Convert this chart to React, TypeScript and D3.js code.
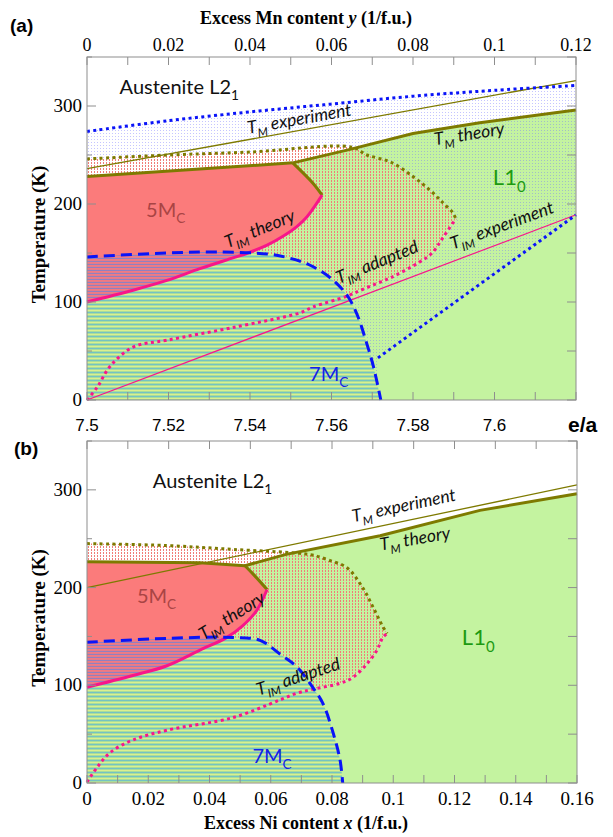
import React from 'react';
import * as d3 from 'd3';

type P = [number, number];

// ---------- panel (a): e/a on bottom, excess Mn on top ----------
const aTMexpBlue: P[] = [[7.5, 274], [7.52, 285], [7.54, 294], [7.56, 302], [7.58, 310], [7.6, 316], [7.62, 321]];
const aTMexpLine: P[] = [[7.5, 236], [7.62, 326]];
const aOliveDotted: P[] = [[7.5, 246], [7.52, 250], [7.54, 253], [7.565, 258], [7.5687, 250], [7.5744, 243], [7.58, 228], [7.5842, 214], [7.5874, 201], [7.5898, 191], [7.5905, 185]];
const aTop5M: P[] = [[7.5, 228], [7.5505, 242]];
const aTMtheory: P[] = [[7.5505, 242], [7.5638, 255], [7.58, 272], [7.5964, 283], [7.62, 296]];
const a5Mcorner: P[] = [[7.5505, 242], [7.5555, 221], [7.5577, 209]];
const aTIMtheory: P[] = [[7.5, 100], [7.5113, 112], [7.5196, 122], [7.5277, 134], [7.5358, 145], [7.5395, 150], [7.5442, 158], [7.5481, 167], [7.5515, 177], [7.554, 187], [7.5577, 209]];
const a7M: P[] = [[7.5, 146], [7.5196, 150], [7.5319, 151], [7.5442, 149], [7.5495, 145], [7.5545, 138], [7.5596, 125], [7.5638, 107], [7.5663, 87], [7.5684, 61], [7.5703, 34], [7.5721, 0]];
const aTIMadapted: P[] = [[7.5, 0], [7.5025, 13], [7.5056, 34], [7.5113, 54], [7.5196, 61], [7.5358, 74], [7.5523, 89], [7.5555, 95], [7.5638, 106], [7.5677, 113], [7.5751, 126], [7.5817, 141], [7.5847, 150], [7.5874, 166], [7.5905, 185]];
const aTIMexp: P[] = [[7.5, 0], [7.62, 189]];
const aBlueLower: P[] = [[7.5714, 43], [7.62, 189]];

const mnTicks = [0, 0.02, 0.04, 0.06, 0.08, 0.1, 0.12];
const mnLabels = ['0', '0.02', '0.04', '0.06', '0.08', '0.1', '0.12'];
const eaTicks = [7.5, 7.52, 7.54, 7.56, 7.58, 7.6];
const eaLabels = ['7.5', '7.52', '7.54', '7.56', '7.58', '7.6'];

// ---------- panel (b): excess Ni ----------
const bTMexp: P[] = [[0, 200], [0.16, 305]];
const bOliveDotted: P[] = [[0, 245], [0.026, 243], [0.048, 239], [0.0695, 235], [0.074, 233], [0.079, 228], [0.085, 220], [0.09, 200], [0.0934, 180], [0.0966, 160], [0.098, 153]];
const bTop5M: P[] = [[0, 226.5], [0.0369, 225.5], [0.0516, 222.4]];
const bTMtheory: P[] = [[0.0516, 222.4], [0.065, 234], [0.0957, 253], [0.1283, 279], [0.16, 296]];
const b5Mcorner: P[] = [[0.0516, 222.4], [0.0542, 214], [0.0588, 198]];
const bTIMtheory: P[] = [[0, 98], [0.015, 110], [0.0261, 120], [0.0369, 136], [0.0457, 149], [0.0509, 161], [0.0555, 177], [0.0588, 198]];
const b7M: P[] = [[0, 144], [0.0261, 148], [0.0477, 149], [0.0565, 146], [0.063, 132], [0.0685, 119], [0.0739, 97], [0.0771, 81], [0.0804, 51], [0.0826, 24], [0.0835, 0]];
const bTIMadapted: P[] = [[0, 1], [0.0033, 16], [0.0075, 31], [0.015, 44], [0.0261, 54], [0.0477, 67], [0.063, 85], [0.0686, 92], [0.0738, 96], [0.0826, 102], [0.0868, 108], [0.0914, 122], [0.0947, 136], [0.0966, 149], [0.098, 153]];

const niTicks = [0, 0.02, 0.04, 0.06, 0.08, 0.1, 0.12, 0.14, 0.16];
const niLabels = ['0', '0.02', '0.04', '0.06', '0.08', '0.1', '0.12', '0.14', '0.16'];
const tempTicks = [0, 100, 200, 300];

const OLIVE = '#7e7a00';
const PINK = '#f8168a';
const BLUE = '#0a14f8';
const GREEN = '#c4f3a0';
const RED = '#fb7b7b';
const FRAME = '#8e8e8e';
const SERIF = '"Liberation Serif", "Times New Roman", serif';
const SANS = '"Liberation Sans", Arial, sans-serif';
const NOTE = 'Lato, "Open Sans", sans-serif';

function lineOf(x: any, y: any, pts: P[], smooth = false) {
  const g = d3.line<P>().x(d => x(d[0])).y(d => y(d[1]));
  if (smooth) g.curve(d3.curveCatmullRom.alpha(0.5));
  return g(pts) as string;
}
function area(parts: string[]) {
  return parts.map((p, i) => (i === 0 ? p : p.replace(/^M/, 'L'))).join('') + 'Z';
}
const rev = (pts: P[]) => pts.slice().reverse();

function Label({ x, y, base, sub, rest, angle = 0, size, color = '#111', italic = false }: any) {
  return (
    <text transform={`translate(${x},${y}) rotate(${angle})`} textAnchor={angle ? 'middle' : 'start'}
      fontFamily={NOTE} fontSize={size} fill={color} fontStyle={italic ? 'italic' : 'normal'}>
      {base}
      <tspan fontSize={size * 0.68} dy={size * 0.3}>{sub}</tspan>
      {rest ? <tspan dy={-size * 0.3}>{rest}</tspan> : null}
    </text>
  );
}

function Frame({ x, y, topTicks, botTicks }: any) {
  const [x0, x1] = x.range();
  const [y0, y1] = y.range();
  return (
    <g stroke={FRAME} strokeWidth={1}>
      {topTicks.map((v: number, i: number) => (
        <line key={'t' + i} x1={v} x2={v} y1={y1} y2={y1 + 8} />
      ))}
      {botTicks.map((v: number, i: number) => (
        <line key={'b' + i} x1={x(v)} x2={x(v)} y1={y0} y2={y0 - 8} />
      ))}
      {d3.range(0, 351, 50).map(v => (
        <g key={'y' + v}>
          <line x1={x0} x2={x0 + (v % 100 === 0 ? 9 : 5)} y1={y(v)} y2={y(v)} />
          <line x1={x1} x2={x1 - 9} y1={y(v)} y2={y(v)} />
        </g>
      ))}
      <rect x={x0} y={y1} width={x1 - x0} height={y0 - y1} fill="none" />
    </g>
  );
}

function Phases({ id, green, blueDots, adapted, m7, m5, plot }: any) {
  return (
    <g>
      <defs>
        <clipPath id={id + 'ad'}><path d={adapted} /></clipPath>
        <clipPath id={id + 'm5'}><path d={m5} /></clipPath>
      </defs>
      <path d={green} fill={GREEN} />
      {blueDots ? <path d={blueDots} fill="url(#bdots)" /> : null}
      <g clipPath={`url(#${id}ad)`}>
        <rect {...plot} fill="#fff" />
        <path d={green} fill={GREEN} />
        <rect {...plot} fill="url(#pdots)" />
      </g>
      <path d={m7} fill="url(#s7)" />
      <path d={m5} fill={RED} />
      <path d={m7} fill="url(#s57)" clipPath={`url(#${id}m5)`} />
    </g>
  );
}

function PanelA() {
  const x = d3.scaleLinear([7.5, 7.62], [87, 576]);
  const xTop = d3.scaleLinear([0, 0.12], [87, 576]);
  const y = d3.scaleLinear([0, 350], [400, 57]);
  const L = (pts: P[], s = false) => lineOf(x, y, pts, s);
  const [e0, e1] = x.domain();
  const plot = { x: 87, y: 57, width: 489, height: 343 };

  const green = area([L(aTop5M), L(aTMtheory), L([[e1, aTMtheory[aTMtheory.length - 1][1]], [e1, 0], [e0, 0]])]);
  const blueDots = area([L(aTMexpBlue, true), L([[e1, 321], aBlueLower[1], aBlueLower[0], [aBlueLower[0][0], 0], [e0, 0]])]);
  const adapted = area([L(aOliveDotted, true), L(rev(aTIMadapted), true)]);
  const m7 = area([L(a7M, true), L([[a7M[a7M.length - 1][0], 0], [e0, 0]])]);
  const m5 = area([L(aTop5M), L(a5Mcorner, true), L(rev(aTIMtheory), true)]);

  return (
    <g>
      <Phases id="a" green={green} blueDots={blueDots} adapted={adapted} m7={m7} m5={m5} plot={plot} />
      <g fill="none">
        <path d={L(aTMexpLine)} stroke={OLIVE} strokeWidth={1.3} />
        <path d={L(aTMexpBlue, true)} stroke={BLUE} strokeWidth={3} strokeDasharray="3 3.4" />
        <path d={L(aOliveDotted, true)} stroke={OLIVE} strokeWidth={3} strokeDasharray="3 3.4" />
        <path d={L(aTop5M)} stroke={OLIVE} strokeWidth={3} />
        <path d={L(aTMtheory)} stroke={OLIVE} strokeWidth={3} />
        <path d={L(a5Mcorner, true)} stroke={OLIVE} strokeWidth={3} />
        <path d={L(aTIMexp)} stroke={PINK} strokeWidth={1.2} />
        <path d={L(aBlueLower)} stroke={BLUE} strokeWidth={3} strokeDasharray="3 3.4" />
        <path d={L(aTIMadapted, true)} stroke={PINK} strokeWidth={3} strokeDasharray="3 3.4" />
        <path d={L(aTIMtheory, true)} stroke={PINK} strokeWidth={3} />
        <path d={L(a7M, true)} stroke={BLUE} strokeWidth={3} strokeDasharray="11 6" />
      </g>
      <Frame x={x} y={y} topTicks={xTop.ticks(12).map(v => xTop(v))} botTicks={x.ticks(12)} />

      <Label x={x(7.508)} y={y(312)} base="Austenite L2" sub="1" size={20} />
      <Label x={x(7.5523)} y={y(281)} base="T" sub="M" rest=" experiment" angle={-10} size={17.5} italic />
      <Label x={x(7.594)} y={y(265.5)} base="T" sub="M" rest=" theory" angle={-9} size={17.5} italic />
      <Label x={x(7.5996)} y={y(219)} base="L1" sub="0" size={22} color="#1c9a12" />
      <Label x={x(7.5145)} y={y(187)} base="5M" sub="C" size={20} color="#a94444" />
      <Label x={x(7.5429)} y={y(169)} base="T" sub="IM" rest=" theory" angle={-22} size={17.5} italic />
      <Label x={x(7.5717)} y={y(135)} base="T" sub="IM" rest=" adapted" angle={-22} size={17.5} italic />
      <Label x={x(7.6023)} y={y(172.4)} base="T" sub="IM" rest=" experiment" angle={-20} size={17.5} italic />
      <Label x={x(7.5545)} y={y(19)} base="7M" sub="C" size={20} color="#1421e8" />

      <g fontFamily={SERIF} fontSize={18} textAnchor="middle" fill="#000">
        {mnTicks.map((v, i) => (
          <text key={i} x={xTop(v)} y={51}>{mnLabels[i]}</text>
        ))}
        <text x={306} y={24} fontWeight="bold">
          Excess Mn content <tspan fontStyle="italic">y</tspan> (1/f.u.)
        </text>
      </g>
      <g fontFamily={SANS} fontSize={17} textAnchor="middle" fill="#000">
        {eaTicks.map((v, i) => (
          <text key={i} x={x(v)} y={431}>{eaLabels[i]}</text>
        ))}
        <text x={568} y={432} textAnchor="start" fontSize={21} fontWeight="bold">e/a</text>
      </g>
      <g fontFamily={SERIF} fontSize={19} textAnchor="end" fill="#000">
        {tempTicks.map(v => (
          <text key={v} x={82} y={y(v) + 6}>{v}</text>
        ))}
      </g>
      <text transform={`translate(45,${(y(0) + y(350)) / 2 + 6}) rotate(-90)`} textAnchor="middle"
        fontFamily={SERIF} fontWeight="bold" fontSize={19}>Temperature (K)</text>
      <text x={10} y={32} fontFamily={SANS} fontWeight="bold" fontSize={19}>(a)</text>
    </g>
  );
}

function PanelB() {
  const x = d3.scaleLinear([0, 0.16], [87, 577]);
  const xTop = d3.scaleLinear([0, 12], [87, 577]);
  const y = d3.scaleLinear([0, 350], [783, 441]);
  const L = (pts: P[], s = false) => lineOf(x, y, pts, s);
  const [x0, x1] = x.domain();
  const plot = { x: 87, y: 441, width: 490, height: 342 };

  const green = area([L(bTop5M), L(bTMtheory), L([[x1, bTMtheory[bTMtheory.length - 1][1]], [x1, 0], [x0, 0]])]);
  const adapted = area([L(bOliveDotted, true), L(rev(bTIMadapted), true)]);
  const m7 = area([L(b7M, true), L([[b7M[b7M.length - 1][0], 0], [x0, 0]])]);
  const m5 = area([L(bTop5M), L(b5Mcorner, true), L(rev(bTIMtheory), true)]);

  return (
    <g>
      <Phases id="b" green={green} adapted={adapted} m7={m7} m5={m5} plot={plot} />
      <g fill="none">
        <path d={L(bTMexp)} stroke={OLIVE} strokeWidth={1.3} />
        <path d={L(bOliveDotted, true)} stroke={OLIVE} strokeWidth={3} strokeDasharray="3 3.4" />
        <path d={L(bTop5M)} stroke={OLIVE} strokeWidth={3} />
        <path d={L(bTMtheory)} stroke={OLIVE} strokeWidth={3} />
        <path d={L(b5Mcorner, true)} stroke={OLIVE} strokeWidth={3} />
        <path d={L(bTIMadapted, true)} stroke={PINK} strokeWidth={3} strokeDasharray="3 3.4" />
        <path d={L(bTIMtheory, true)} stroke={PINK} strokeWidth={3} />
        <path d={L(b7M, true)} stroke={BLUE} strokeWidth={3} strokeDasharray="11 6" />
      </g>
      <Frame x={x} y={y} topTicks={xTop.ticks(12).map(v => xTop(v))} botTicks={x.ticks(16)} />

      <Label x={x(0.0215)} y={y(302)} base="Austenite L2" sub="1" size={20} />
      <Label x={x(0.1038)} y={y(278)} base="T" sub="M" rest=" experiment" angle={-12} size={17.5} italic />
      <Label x={x(0.1074)} y={y(244)} base="T" sub="M" rest=" theory" angle={-9.5} size={17.5} italic />
      <Label x={x(0.0163)} y={y(184)} base="5M" sub="C" size={20} color="#a94444" />
      <Label x={x(0.0483)} y={y(166)} base="T" sub="IM" rest=" theory" angle={-32} size={17.5} italic />
      <Label x={x(0.0695)} y={y(103)} base="T" sub="IM" rest=" adapted" angle={-18} size={17.5} italic />
      <Label x={x(0.054)} y={y(20.4)} base="7M" sub="C" size={20} color="#1421e8" />
      <Label x={x(0.1224)} y={y(141)} base="L1" sub="0" size={22} color="#1c9a12" />

      <g fontFamily={SERIF} fontSize={19} textAnchor="middle" fill="#000">
        {niTicks.map((v, i) => (
          <text key={i} x={x(v)} y={805}>{niLabels[i]}</text>
        ))}
        <text x={306} y={829} fontWeight="bold" fontSize={18}>
          Excess Ni content <tspan fontStyle="italic">x</tspan> (1/f.u.)
        </text>
      </g>
      <g fontFamily={SERIF} fontSize={19} textAnchor="end" fill="#000">
        {tempTicks.map(v => (
          <text key={v} x={82} y={y(v) + 6}>{v}</text>
        ))}
      </g>
      <text transform={`translate(45,${(y(0) + y(350)) / 2 + 6}) rotate(-90)`} textAnchor="middle"
        fontFamily={SERIF} fontWeight="bold" fontSize={19}>Temperature (K)</text>
      <text x={14} y={455} fontFamily={SANS} fontWeight="bold" fontSize={19}>(b)</text>
    </g>
  );
}

export default function App() {
  return (
    <svg width={613} height={837} style={{ position: 'absolute', left: 0, top: 0, background: '#fff' }}>
      <defs>
        <pattern id="bdots" width={3} height={3} patternUnits="userSpaceOnUse">
          <rect x={1} y={1} width={1} height={1} fill="#6e6eff" opacity={0.4} />
        </pattern>
        <pattern id="pdots" width={3} height={3} patternUnits="userSpaceOnUse">
          <rect x={1} y={0} width={1} height={2} fill="#f07c78" />
        </pattern>
        <pattern id="s7" width={4} height={4} patternUnits="userSpaceOnUse">
          <rect y={0} width={4} height={1} fill="#74c2c4" />
          <rect y={1} width={4} height={1} fill="#a8de9c" />
          <rect y={2} width={4} height={1} fill="#dbef8e" />
          <rect y={3} width={4} height={1} fill="#a8de9c" />
        </pattern>
        <pattern id="s57" width={3} height={3} patternUnits="userSpaceOnUse">
          <rect y={0} width={3} height={1} fill="#9080c0" />
          <rect y={1} width={3} height={1} fill="#f07a82" />
          <rect y={2} width={3} height={1} fill="#e27c8c" />
        </pattern>
      </defs>
      <PanelA />
      <PanelB />
    </svg>
  );
}
